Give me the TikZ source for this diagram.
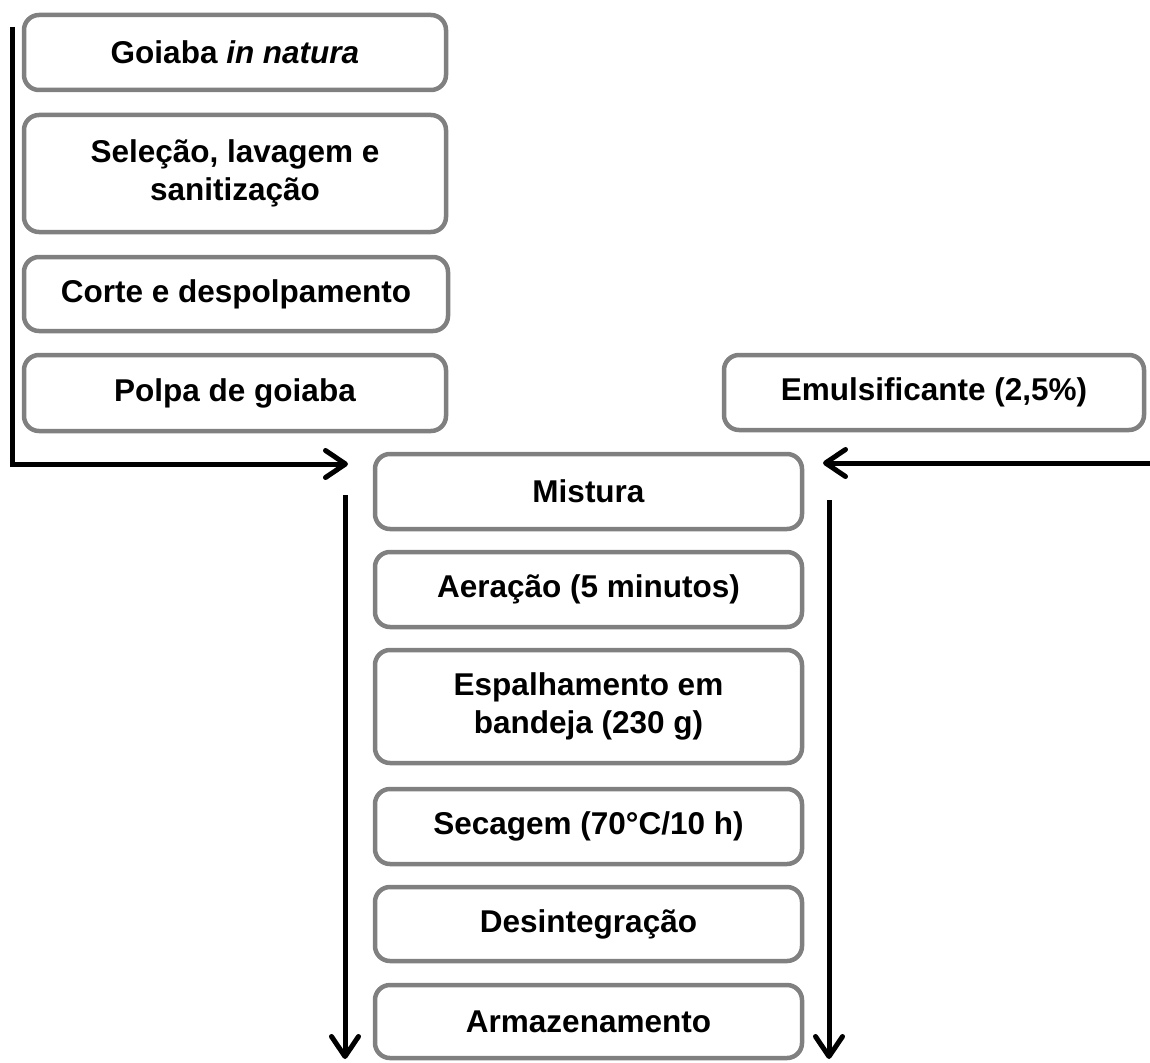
\documentclass[tikz,border=0pt]{standalone}
\usepackage{fontspec}
\setmainfont{Liberation Sans}
\usetikzlibrary{arrows.meta}
\definecolor{boxgray}{RGB}{128,128,128}
\tikzset{
  box/.style={draw=boxgray, line width=4.5pt, rounded corners=15pt, fill=white,
    align=center, inner sep=0pt,
    font=\fontsize{31.5}{38}\selectfont\bfseries},
  flow/.style={line width=5pt, black, line cap=butt,
    -{Straight Barb[length=20pt,width=27pt,line cap=round,line join=round]}}
}
\begin{document}
\begin{tikzpicture}[x=1pt,y=-1pt]
\useasboundingbox (0,0) rectangle (1150,1062);
% left column
\node[box, minimum width=422pt, minimum height=75pt] (goiaba) at (235,52.5) {Goiaba \textit{in natura}};
\node[box, minimum width=422pt, minimum height=117pt] (selecao) at (235,173.5) {Seleção, lavagem e\\sanitização};
\node[box, minimum width=424pt, minimum height=74pt] (corte) at (236,294) {Corte e despolpamento};
\node[box, minimum width=422pt, minimum height=76pt] (polpa) at (235,393) {Polpa de goiaba};
% right input
\node[box, minimum width=420pt, minimum height=75pt] (emul) at (934,392.5) {Emulsificante (2,5\%)};
% central column
\node[box, minimum width=427pt, minimum height=75pt] (mistura) at (588.5,491.5) {Mistura};
\node[box, minimum width=427pt, minimum height=75pt] (aeracao) at (588.5,589.5) {Aeração (5 minutos)};
\node[box, minimum width=427pt, minimum height=113pt] (espalha) at (588.5,706.5) {Espalhamento em\\bandeja (230 g)};
\node[box, minimum width=427pt, minimum height=75pt] (secagem) at (588.5,826.5) {Secagem (70°C/10 h)};
\node[box, minimum width=427pt, minimum height=74pt] (desint) at (588.5,924) {Desintegração};
\node[box, minimum width=427pt, minimum height=73pt] (armaz) at (588.5,1021.5) {Armazenamento};
% connectors
\coordinate (ltop) at (12,27);
\coordinate (inL) at (348,464);
\coordinate (rstart) at (1150,463);
\coordinate (inR) at (823,463);
\coordinate (dLtop) at (345,495);
\coordinate (dLbot) at (345,1059);
\coordinate (dRtop) at (829,500);
\coordinate (dRbot) at (829,1059);
\draw[flow, line join=miter] (ltop) |- (inL);
\draw[flow] (rstart) -- (inR);
\draw[flow] (dLtop) -- (dLbot);
\draw[flow] (dRtop) -- (dRbot);
\end{tikzpicture}
\end{document}
